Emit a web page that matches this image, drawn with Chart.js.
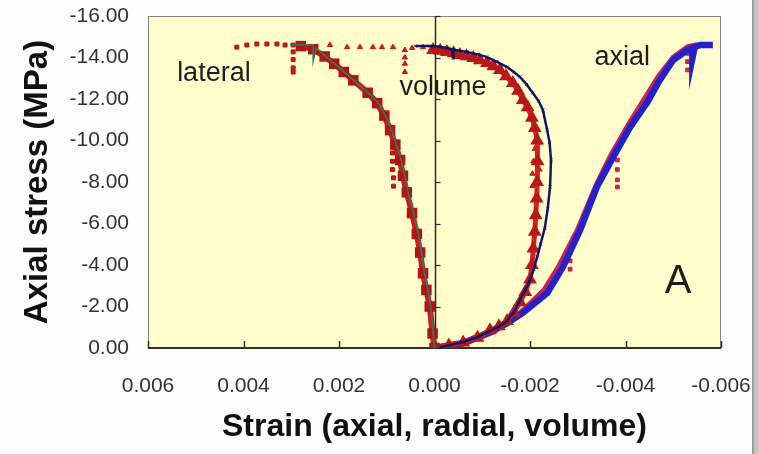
<!DOCTYPE html>
<html><head><meta charset="utf-8">
<script src="https://cdn.jsdelivr.net/npm/chart.js@4/dist/chart.umd.min.js"></script>
<style>
html,body{margin:0;padding:0;background:#fdfdfd;}
#wrap{position:relative;width:759px;height:454px;overflow:hidden;background:#fdfdfd;}
#c{position:absolute;left:0;top:0;}
#edge{position:absolute;left:752px;top:0;width:7px;height:454px;background:linear-gradient(to right,#8a8a8a 0px,#a6a6a6 1px,#c2c2c2 3px,#cdcdcd 100%);}
</style></head><body>
<div id="wrap"><canvas id="c" width="752" height="454"></canvas><div id="edge"></div></div>
<script>
// ---- tick labels ----
const xTickValues = [0.006, 0.004, 0.002, 0, -0.002, -0.004, -0.006];
const xTickLabels = ['0.006', '0.004', '0.002', '0.000', '-0.002', '-0.004', '-0.006'];
const yTickValues = [0, -2, -4, -6, -8, -10, -12, -14, -16];
const yTickLabels = ['0.00', '-2.00', '-4.00', '-6.00', '-8.00', '-10.00', '-12.00', '-14.00', '-16.00'];

// ---- lateral strain (red squares, dense part) ----
const lateralX = [0, 0.00004, 0.0001, 0.00017, 0.00024, 0.0003, 0.00037, 0.00047, 0.00058, 0.00066, 0.00072, 0.00082, 0.00093, 0.00105, 0.0012, 0.0014, 0.0017, 0.0019, 0.0021, 0.0023, 0.00254, 0.0028];
const lateralY = [0, -0.7, -2.0, -2.8, -3.6, -4.6, -5.5, -6.5, -7.5, -8.3, -9.06, -9.8, -10.5, -11.2, -11.8, -12.3, -12.9, -13.3, -13.7, -14.05, -14.4, -14.55];
// lateral sparse squares (top plateau and drops)
const lateralPtsX = [0.00414, 0.00393, 0.00372, 0.00351, 0.0033, 0.00313, 0.00296, 0.00296, 0.00296, 0.00296, 0.00296, 0.00088, 0.00088, 0.00088, 0.00086, 0.00086];
const lateralPtsY = [-14.5, -14.6, -14.65, -14.65, -14.65, -14.6, -14.6, -14.27, -13.9, -13.5, -13.3, -9.4, -9.0, -8.6, -8.2, -7.8];
// lateral fit (green line)
const lateralFitX = [0.00303, 0.00254, 0.00254, 0.00248, 0.0023, 0.0021, 0.0017, 0.0014, 0.00118, 0.00103, 0.0009, 0.0007, 0.00055, 0.00044, 0.00034, 0.00027, 0.00021, 0.00014, 0.00008, 0];
const lateralFitY = [-14.62, -14.6, -13.85, -14.45, -14.1, -13.72, -12.92, -12.32, -11.82, -11.2, -10.5, -9.1, -7.5, -6.5, -5.5, -4.6, -3.6, -2.8, -2.0, 0];

// ---- volumetric strain (red triangles, dense part) ----
const volumeX = [0, -0.0003, -0.0006, -0.0009, -0.00116, -0.00135, -0.00152, -0.00166, -0.00179, -0.0019, -0.002, -0.00204, -0.00207, -0.0021, -0.00212, -0.00214, -0.00215, -0.00216, -0.00215, -0.0021, -0.00204, -0.00195, -0.00185, -0.00175, -0.00164, -0.0015, -0.00137, -0.00123, -0.0011, -0.00095, -0.00081, -0.00067, -0.00053, -0.0004, -0.00026, -0.00012, 0.00003];
const volumeY = [0, -0.12, -0.27, -0.5, -0.85, -1.05, -1.3, -1.7, -2.2, -2.7, -3.3, -4.0, -4.8, -5.6, -6.4, -7.2, -8.0, -9.0, -10.0, -10.6, -11.1, -11.6, -11.95, -12.4, -12.77, -13.1, -13.4, -13.58, -13.73, -13.87, -13.98, -14.06, -14.12, -14.2, -14.27, -14.32, -14.36];
// volume sparse triangles (plateau, drops)
const volumePtsX = [0.00024, 0.00047, 0.00062, 0.00062, 0.00062, 0.00062, 0.00087, 0.0011, 0.00129, 0.00156, 0.00183, 0.00219, -0.00205, -0.00205, -0.00207, -0.0021, -0.0022, -0.0022];
const volumePtsY = [-14.5, -14.46, -14.36, -14.0, -13.7, -13.3, -14.5, -14.5, -14.5, -14.5, -14.5, -14.6, -7.8, -8.4, -9.0, -9.6, -9.9, -8.6];
// volume fit (navy line)
const volumeFitX = [0, -0.0003, -0.0006, -0.0009, -0.00116, -0.00135, -0.00152, -0.00167, -0.00179, -0.0019, -0.002, -0.00208, -0.00215, -0.00222, -0.00231, -0.00237, -0.00242, -0.00244, -0.00241, -0.00236, -0.00227, -0.00218, -0.00206, -0.00193, -0.00179, -0.00166, -0.00152, -0.0013, -0.0011, -0.0009, -0.00068, -0.0004, -0.00039, -0.00037, -0.00026, -0.0001, 0.00009, 0.0004];
const volumeFitY = [0, -0.13, -0.29, -0.52, -0.82, -1.03, -1.3, -1.75, -2.31, -2.8, -3.28, -3.8, -4.39, -5.0, -5.78, -6.7, -7.76, -9.06, -9.9, -10.5, -11.47, -11.9, -12.29, -12.7, -13.06, -13.3, -13.54, -13.8, -14.02, -14.15, -14.27, -14.38, -13.95, -14.4, -14.46, -14.52, -14.55, -14.55];

// ---- axial strain (red points) ----
const axialX = [0, -0.0006, -0.0012, -0.0016, -0.0019, -0.0023, -0.0026, -0.003, -0.0034, -0.0037, -0.0041, -0.0044, -0.0047, -0.005, -0.0053, -0.0055];
const axialY = [0, -0.2, -0.75, -1.3, -1.9, -2.8, -3.9, -5.7, -7.9, -9.3, -10.9, -12.0, -13.1, -14.0, -14.5, -14.6];
const axialPtsX = [-0.00284, -0.00284, -0.00284, -0.00383, -0.00383, -0.00383, -0.00383, -0.0053, -0.0053, -0.0053];
const axialPtsY = [-4.6, -4.2, -3.8, -9.06, -8.6, -8.1, -7.76, -14.2, -13.8, -13.4];
// axial fit (blue line)
const axialFitX = [0, -0.0006, -0.00116, -0.00152, -0.00185, -0.00236, -0.00269, -0.00305, -0.0034, -0.00374, -0.0041, -0.00446, -0.00472, -0.005, -0.00529, -0.0054, -0.0054, -0.00545, -0.00556, -0.00583];
const axialFitY = [0, -0.24, -0.77, -1.2, -1.69, -2.65, -3.9, -5.69, -7.76, -9.2, -10.65, -11.86, -12.92, -13.88, -14.36, -14.45, -13.95, -14.5, -14.6, -14.6];

// ---- text labels inside the plot ----
const noteText = ['lateral', 'volume', 'axial', 'A'];
const noteX = [0.00462, -0.00018, -0.00393, -0.0051];
const noteY = [-13.25, -12.53, -13.98, -3.18];

const pts = (xs, ys) => xs.map((x, i) => ({x: x, y: ys[i]}));
const FONT = "'Liberation Sans', Arial, sans-serif";

const frame = {
  id: 'frame',
  beforeDraw(chart) {
    const {ctx, chartArea: a} = chart;
    ctx.save();
    ctx.fillStyle = '#FFFDCC';
    ctx.fillRect(a.left, a.top, a.right - a.left, a.bottom - a.top);
    ctx.restore();
  },
  beforeDatasetsDraw(chart) {
    const {ctx, chartArea: a, scales} = chart;
    const xs = scales.x, ys = scales.y;
    ctx.save();
    ctx.strokeStyle = '#858585';
    ctx.lineWidth = 1;
    ctx.strokeRect(a.left + 0.5, a.top + 0.5, a.right - a.left - 1, a.bottom - a.top);
    ctx.strokeStyle = '#303030';
    ctx.lineWidth = 2;
    ctx.beginPath(); ctx.moveTo(a.left, a.bottom); ctx.lineTo(a.right, a.bottom); ctx.stroke();
    ctx.lineWidth = 1.5;
    xTickValues.forEach(v => {
      const px = Math.round(xs.getPixelForValue(v)) + 0.5;
      ctx.beginPath(); ctx.moveTo(px, a.bottom); ctx.lineTo(px, a.bottom - 7); ctx.stroke();
    });
    const x0 = Math.round(xs.getPixelForValue(0)) + 0.5;
    ctx.strokeStyle = '#2a2a2a';
    ctx.lineWidth = 1.5;
    ctx.beginPath(); ctx.moveTo(x0, a.top); ctx.lineTo(x0, a.bottom); ctx.stroke();
    ctx.lineWidth = 1.2;
    yTickValues.forEach(v => {
      const py = Math.round(ys.getPixelForValue(v)) + 0.5;
      ctx.beginPath(); ctx.moveTo(x0, py); ctx.lineTo(x0 + 5, py); ctx.stroke();
    });
    ctx.restore();
  },
  afterDatasetsDraw(chart) {
    const {ctx, scales} = chart;
    ctx.save();
    ctx.fillStyle = '#1e1e1e';
    ctx.textAlign = 'center';
    ctx.textBaseline = 'middle';
    noteText.forEach((t, i) => {
      ctx.font = (t === 'A' ? '40px ' : '27px ') + FONT;
      ctx.fillText(t, scales.x.getPixelForValue(noteX[i]), scales.y.getPixelForValue(noteY[i]));
    });
    ctx.restore();
  }
};

new Chart(document.getElementById('c'), {
  type: 'scatter',
  data: {
    datasets: [
      {label: 'lateral fit', data: pts(lateralFitX, lateralFitY), showLine: true, borderColor: '#2f7d5c', borderWidth: 1.6, pointRadius: 0, order: 1},
      {label: 'lateral', data: pts(lateralX, lateralY), showLine: true, borderColor: '#cc1a1a', borderWidth: 6, pointStyle: 'rect', pointRadius: 3.2, backgroundColor: '#c81818', pointBorderColor: '#b01414', order: 2},
      {label: 'lateral pts', data: pts(lateralPtsX, lateralPtsY), pointStyle: 'rect', pointRadius: 2.8, backgroundColor: '#c81818', borderColor: '#b01414', borderWidth: 1, order: 2},
      {label: 'volume fit', data: pts(volumeFitX, volumeFitY), showLine: true, borderColor: '#141466', borderWidth: 2.5, pointStyle: 'crossRot', pointRadius: 2, pointBorderWidth: 1, pointBorderColor: '#141466', order: 3},
      {label: 'volume', data: pts(volumeX, volumeY), showLine: true, borderColor: '#d42020', borderWidth: 5, pointStyle: 'triangle', pointRadius: 3, backgroundColor: '#d42020', pointBorderColor: '#b81818', order: 4},
      {label: 'volume pts', data: pts(volumePtsX, volumePtsY), pointStyle: 'triangle', pointRadius: 3, backgroundColor: '#d42020', borderColor: '#b81818', borderWidth: 1, order: 4},
      {label: 'axial fit', data: pts(axialFitX, axialFitY), showLine: true, borderColor: '#2222c8', borderWidth: 6.5, pointRadius: 0, order: 5},
      {label: 'axial', data: pts(axialX, axialY), showLine: true, borderColor: '#c8205a', borderWidth: 5.5, pointRadius: 0, order: 6},
      {label: 'axial pts', data: pts(axialPtsX, axialPtsY), pointStyle: 'rect', pointRadius: 2.6, backgroundColor: '#d02848', borderColor: '#c02040', borderWidth: 1, order: 6}
    ]
  },
  options: {
    responsive: false,
    animation: false,
    devicePixelRatio: 1,
    layout: {padding: {left: 14, right: 31, top: 16, bottom: 4}},
    plugins: {legend: {display: false}, tooltip: {enabled: false}},
    scales: {
      x: {
        type: 'linear', position: 'bottom', reverse: true, min: -0.006, max: 0.006,
        afterBuildTicks: s => { s.ticks = xTickValues.map(v => ({value: v})); },
        afterFit: s => { s.height = 102; s.paddingLeft = 0; s.paddingRight = 0; },
        grid: {display: false, drawTicks: false},
        border: {display: false},
        ticks: {
          autoSkip: false, maxRotation: 0, padding: 26, color: '#333',
          font: {family: FONT, size: 21},
          callback: v => xTickLabels[xTickValues.findIndex(t => Math.abs(t - v) < 1e-9)]
        },
        title: {display: true, text: 'Strain (axial, radial, volume)', color: '#111', font: {family: FONT, size: 32, weight: 'bold'}, padding: {top: 4, bottom: 4}}
      },
      y: {
        type: 'linear', position: 'left', reverse: true, min: -16, max: 0,
        afterBuildTicks: s => { s.ticks = yTickValues.map(v => ({value: v})); },
        afterFit: s => { s.width = 134; s.paddingTop = 0; s.paddingBottom = 0; },
        grid: {display: false, drawTicks: false},
        border: {display: false},
        ticks: {
          autoSkip: false, padding: 19, color: '#333',
          font: {family: FONT, size: 21},
          callback: v => yTickLabels[yTickValues.findIndex(t => Math.abs(t - v) < 1e-9)]
        },
        title: {display: true, text: 'Axial stress (MPa)', color: '#111', font: {family: FONT, size: 33, weight: 'bold'}, padding: {top: 4, bottom: 4}}
      }
    }
  },
  plugins: [frame]
});
</script>
</body></html>
